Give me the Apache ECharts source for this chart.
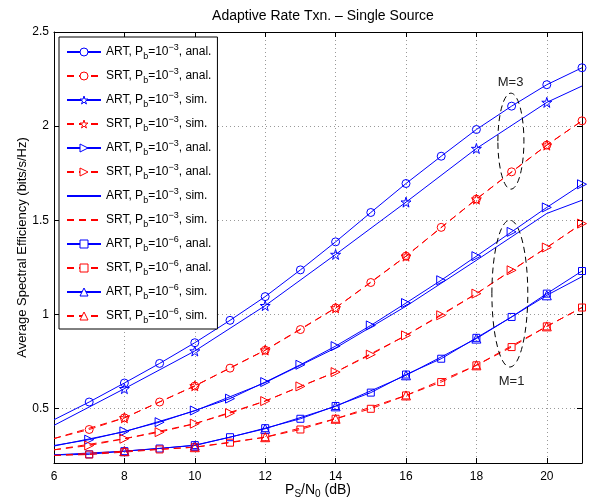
<!DOCTYPE html>
<html><head><meta charset="utf-8">
<script src="https://cdn.jsdelivr.net/npm/echarts@6/dist/echarts.min.js"></script>
<style>html,body{margin:0;padding:0;background:#fff}#c{width:593px;height:502px}</style>
</head><body><div id="c"></div>
<script>
// ---- data ----
const snrAll = [6,7,8,9,10,11,12,13,14,15,16,17,18,19,20,21];
const snrSim = [6,8,10,12,14,16,18,20,21];
const xTicks = [6,8,10,12,14,16,18,20];
const yTicks = [0.5,1,1.5,2,2.5];

// M = 3, Pb = 1e-3
const artAnalM3 = [0.44,0.534,0.635,0.739,0.849,0.968,1.094,1.236,1.385,1.541,1.695,1.840,1.982,2.106,2.220,2.310];
const srtAnalM3 = [0.34,0.388,0.45,0.534,0.619,0.714,0.809,0.919,1.034,1.169,1.309,1.462,1.612,1.757,1.899,2.028];
const artSimM3  = [0.41,0.605,0.805,1.046,1.318,1.596,1.881,2.126,2.213];
const srtSimM3  = [0.34,0.45,0.62,0.81,1.034,1.309,1.612,1.899,2.028];
// M = 1, Pb = 1e-3
const artAnalM1 = [0.303,0.334,0.378,0.427,0.489,0.552,0.640,0.732,0.831,0.941,1.06,1.181,1.309,1.438,1.568,1.691];
const srtAnalM1 = [0.28,0.303,0.339,0.374,0.419,0.475,0.539,0.617,0.693,0.786,0.888,0.995,1.11,1.234,1.355,1.482];
const artSimM1  = [0.30,0.376,0.487,0.637,0.821,1.043,1.287,1.536,1.606];
const srtSimM1  = [0.28,0.339,0.419,0.539,0.693,0.888,1.11,1.355,1.482];
// M = 1, Pb = 1e-6
const artAnal6 = [0.253,0.256,0.273,0.287,0.305,0.347,0.395,0.445,0.513,0.584,0.68,0.764,0.875,0.986,1.11,1.23];
const srtAnal6 = [0.25,0.255,0.268,0.282,0.294,0.318,0.347,0.388,0.445,0.498,0.569,0.640,0.729,0.826,0.936,1.036];
const artSim6  = [0.253,0.273,0.303,0.392,0.511,0.676,0.871,1.101,1.20];
const srtSim6  = [0.25,0.273,0.294,0.347,0.445,0.569,0.729,0.936,1.036];

const legendText = [
  ['ART','−3','anal.'],['SRT','−3','anal.'],['ART','−3','sim.'],['SRT','−3','sim.'],
  ['ART','−3','anal.'],['SRT','−3','anal.'],['ART','−3','sim.'],['SRT','−3','sim.'],
  ['ART','−6','anal.'],['SRT','−6','anal.'],['ART','−6','sim.'],['SRT','−6','sim.']
];
const titleText = 'Adaptive Rate Txn. – Single Source';
const annM3 = {label:'M=3', lx:18.97, ly:2.234, cx:18.98, cy:1.92, rx:0.37, ry:0.255};
const annM1 = {label:'M=1', lx:19.0, ly:0.644, cx:18.95, cy:1.11, rx:0.51, ry:0.39};

// ---- styling ----
const FONT = '"Liberation Sans", Arial, Helvetica, sans-serif';
const BLUE = '#0000ff', RED = '#ff0000';
const DASH = [7,5];
const STAR = 'path://M50,0L61,35L98,35L68,57L79,91L50,70L21,91L32,57L2,35L39,35Z';
const TRI_R = 'path://M0,0L10,5L0,10Z';

function mk(name, xs, ys, color, dashed, symbol, size, noMarkAt) {
  return {
    type: 'line', name: name,
    data: xs.map((x, i) => noMarkAt.includes(x) ? {value: [x, ys[i]], symbol: 'none'} : [x, ys[i]]),
    symbol: symbol, symbolSize: size, showSymbol: symbol !== 'none', showAllSymbol: true,
    lineStyle: {color: color, width: 1, type: dashed ? DASH : 'solid'},
    itemStyle: {color: 'rgba(0,0,0,0)', borderColor: color, borderWidth: 1},
    emphasis: {disabled: true}, animation: false, clip: false
  };
}

const names = ['s1','s2','s3','s4','s5','s6','s7','s8','s9','s10','s11','s12'];
const noMarker = ['s7','s8'];
const series = [
  mk(names[0], snrAll, artAnalM3, BLUE, false, 'circle', 8, [6]),
  mk(names[1], snrAll, srtAnalM3, RED, true, 'circle', 8, [6]),
  mk(names[2], snrSim, artSimM3, BLUE, false, STAR, 10, [6,21]),
  mk(names[3], snrSim, srtSimM3, RED, true, STAR, 10, [6,21]),
  mk(names[4], snrAll, artAnalM1, BLUE, false, TRI_R, 9, [6]),
  mk(names[5], snrAll, srtAnalM1, RED, true, TRI_R, 9, [6]),
  mk(names[6], snrSim, artSimM1, BLUE, false, 'none', 0, []),
  mk(names[7], snrSim, srtSimM1, RED, true, 'none', 0, []),
  mk(names[8], snrAll, artAnal6, BLUE, false, 'rect', 7, [6]),
  mk(names[9], snrAll, srtAnal6, RED, true, 'rect', 7, [6]),
  mk(names[10], snrSim, artSim6, BLUE, false, 'triangle', 9, [6,21]),
  mk(names[11], snrSim, srtSim6, RED, true, 'triangle', 9, [6,21])
];

const rich = {
  n: {fontSize: 12, lineHeight: 18, fontFamily: FONT, color: '#000'},
  sub: {fontSize: 9, lineHeight: 10, verticalAlign: 'bottom', fontFamily: FONT, color: '#000'},
  sup: {fontSize: 9, lineHeight: 10, verticalAlign: 'top', fontFamily: FONT, color: '#000'}
};
const richName = {
  n: {fontSize: 14, lineHeight: 18, fontFamily: FONT, color: '#000'},
  sub: {fontSize: 10, lineHeight: 10, verticalAlign: 'bottom', fontFamily: FONT, color: '#000'}
};

const gridLine = {show: true, lineStyle: {color: '#999', width: 1, type: [1,3]}};
const axisLine = {show: true, onZero: false, lineStyle: {color: '#000', width: 1}};

const chart = echarts.init(document.getElementById('c'), null, {renderer: 'canvas'});
chart.setOption({
  backgroundColor: '#fff',
  animation: false,
  grid: {left: 54, right: 11, top: 32, bottom: 39, containLabel: false, outerBoundsMode: 'none'},
  xAxis: [{
    type: 'value', min: 6, max: 21, position: 'bottom',
    axisLine: axisLine,
    axisTick: {show: true, inside: true, length: 5, customValues: xTicks, lineStyle: {color: '#000'}},
    axisLabel: {show: true, customValues: xTicks, color: '#000', fontSize: 12, fontFamily: FONT, margin: 8},
    splitLine: gridLine,
    name: '{n|P}{sub|S}{n|/N}{sub|0}{n| (dB)}',
    nameLocation: 'middle', nameGap: 18, nameMoveOverlap: false,
    nameTextStyle: {rich: richName}
  }, {
    type: 'value', min: 6, max: 21, position: 'top',
    axisLine: axisLine,
    axisTick: {show: true, inside: true, length: 5, customValues: xTicks, lineStyle: {color: '#000'}},
    axisLabel: {show: false}, splitLine: {show: false}
  }],
  yAxis: [{
    type: 'value', min: 0.21, max: 2.5, position: 'left',
    axisLine: axisLine,
    axisTick: {show: true, inside: true, length: 5, customValues: yTicks, lineStyle: {color: '#000'}},
    axisLabel: {show: true, customValues: yTicks, color: '#000', fontSize: 12, fontFamily: FONT, margin: 5},
    splitLine: gridLine,
    name: 'Average Spectral Efficiency (bits/s/Hz)',
    nameLocation: 'middle', nameGap: 25, nameMoveOverlap: false,
    nameTextStyle: {color: '#000', fontSize: 13, fontFamily: FONT}
  }, {
    type: 'value', min: 0.21, max: 2.5, position: 'right',
    axisLine: axisLine,
    axisTick: {show: true, inside: true, length: 5, customValues: yTicks, lineStyle: {color: '#000'}},
    axisLabel: {show: false}, splitLine: {show: false}
  }],
  legend: {
    orient: 'vertical', left: 59, top: 37,
    itemWidth: 34, itemHeight: 10, itemGap: 6,
    padding: [6, 6, 4, 7],
    borderColor: '#000', borderWidth: 1, backgroundColor: '#fff',
    itemStyle: {color: '#fff', borderColor: 'inherit', borderWidth: 1},
    data: names.map(n => noMarker.includes(n)
      ? {name: n, itemStyle: {opacity: 0}}
      : {name: n}),
    selectedMode: false,
    textStyle: {fontSize: 12, fontFamily: FONT, color: '#000', rich: rich},
    formatter: function (name) {
      const t = legendText[names.indexOf(name)];
      return '{n|' + t[0] + ', P}{sub|b}{n|=10}{sup|' + t[1] + '}{n|, ' + t[2] + '}';
    }
  },
  series: series
});

function px(x, y) { return chart.convertToPixel({xAxisIndex: 0, yAxisIndex: 0}, [x, y]); }
function ann(a) {
  const c = px(a.cx, a.cy);
  const e = px(a.cx + a.rx, a.cy + a.ry);
  const l = px(a.lx, a.ly);
  return [
    {type: 'ellipse', z: 10, shape: {cx: c[0], cy: c[1], rx: Math.abs(e[0] - c[0]), ry: Math.abs(e[1] - c[1])},
     style: {fill: 'none', stroke: '#000', lineWidth: 1, lineDash: [6, 4]}},
    {type: 'text', z: 10, x: l[0], y: l[1],
     style: {text: a.label, fill: '#222', font: '13px ' + FONT, textAlign: 'center', textVerticalAlign: 'middle'}}
  ];
}
const g0 = px(6, 2.5), g1 = px(21, 2.5);
chart.setOption({
  graphic: [
    {type: 'text', x: (g0[0] + g1[0]) / 2 + 5, y: 16,
     style: {text: titleText, fill: '#000', font: '14px ' + FONT, textAlign: 'center', textVerticalAlign: 'middle'}}
  ].concat(ann(annM3), ann(annM1))
});
</script>
</body></html>
